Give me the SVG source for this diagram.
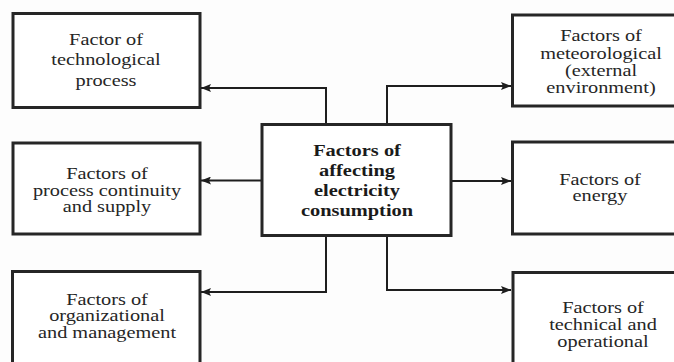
<svg xmlns="http://www.w3.org/2000/svg" width="674" height="362" viewBox="0 0 674 362">
  <defs>
    <marker id="arr" viewBox="0 0 10 8" refX="10" refY="4" markerWidth="10" markerHeight="8" markerUnits="userSpaceOnUse" orient="auto">
      <path d="M0,0 L10,4 L0,8 L2,4 Z" fill="#1e1e1e"/>
    </marker>
  </defs>
  <style>
    .box { fill: #ffffff; stroke: #262626; stroke-width: 3; }
    .t { font-family: "Liberation Serif", "Times New Roman", serif; font-size: 16px; fill: #262626; text-anchor: middle; }
    .b { font-weight: bold; font-size: 17px; fill: #1a1a1a; }
    .c { fill: none; stroke: #1e1e1e; stroke-width: 2; marker-end: url(#arr); }
  </style>
  <rect width="674" height="362" fill="#fdfdfd"/>

  <g id="connectors">
    <path class="c" d="M326,124 V88 H201"/>
    <path class="c" d="M387,124 V86 H511"/>
    <path class="c" d="M262,180.5 H201"/>
    <path class="c" d="M451,181 H511"/>
    <path class="c" d="M326,235 V292 H201"/>
    <path class="c" d="M387,235 V290 H511"/>
  </g>

  <g id="center">
    <rect class="box" x="262" y="124.5" width="189" height="111"/>
    <g transform="translate(357 0) scale(1.2 1)">
      <text class="t b" x="0" y="156.5">Factors of</text>
      <text class="t b" x="0" y="176.5">affecting</text>
      <text class="t b" x="0" y="196.5">electricity</text>
      <text class="t b" x="0" y="216.5">consumption</text>
    </g>
  </g>

  <g id="tech-process">
    <rect class="box" x="13" y="13.5" width="187" height="94"/>
    <g transform="translate(106 0) scale(1.27 1)">
      <text class="t" x="0" y="45">Factor of</text>
      <text class="t" x="0" y="65.5">technological</text>
      <text class="t" x="0" y="86">process</text>
    </g>
  </g>

  <g id="continuity">
    <rect class="box" x="13" y="143" width="187" height="91"/>
    <g transform="translate(107 0) scale(1.27 1)">
      <text class="t" x="0" y="179.5">Factors of</text>
      <text class="t" x="0" y="196">process continuity</text>
      <text class="t" x="0" y="212.5">and supply</text>
    </g>
  </g>

  <g id="organizational">
    <rect class="box" x="12.5" y="271.5" width="187.5" height="100"/>
    <g transform="translate(107 0) scale(1.27 1)">
      <text class="t" x="0" y="305">Factors of</text>
      <text class="t" x="0" y="321.5">organizational</text>
      <text class="t" x="0" y="338">and management</text>
    </g>
  </g>

  <g id="meteorological">
    <rect class="box" x="512.5" y="15" width="187" height="91"/>
    <g transform="translate(601 0) scale(1.27 1)">
      <text class="t" x="0" y="41.5">Factors of</text>
      <text class="t" x="0" y="59">meteorological</text>
      <text class="t" x="0" y="76.5">(external</text>
      <text class="t" x="0" y="93">environment)</text>
    </g>
  </g>

  <g id="energy">
    <rect class="box" x="512.5" y="142" width="187" height="92"/>
    <g transform="translate(600 0) scale(1.27 1)">
      <text class="t" x="0" y="185">Factors of</text>
      <text class="t" x="0" y="201.5">energy</text>
    </g>
  </g>

  <g id="technical">
    <rect class="box" x="513" y="272.5" width="187" height="100"/>
    <g transform="translate(603 0) scale(1.27 1)">
      <text class="t" x="0" y="313.5">Factors of</text>
      <text class="t" x="0" y="330.5">technical and</text>
      <text class="t" x="0" y="347">operational</text>
    </g>
  </g>
</svg>
